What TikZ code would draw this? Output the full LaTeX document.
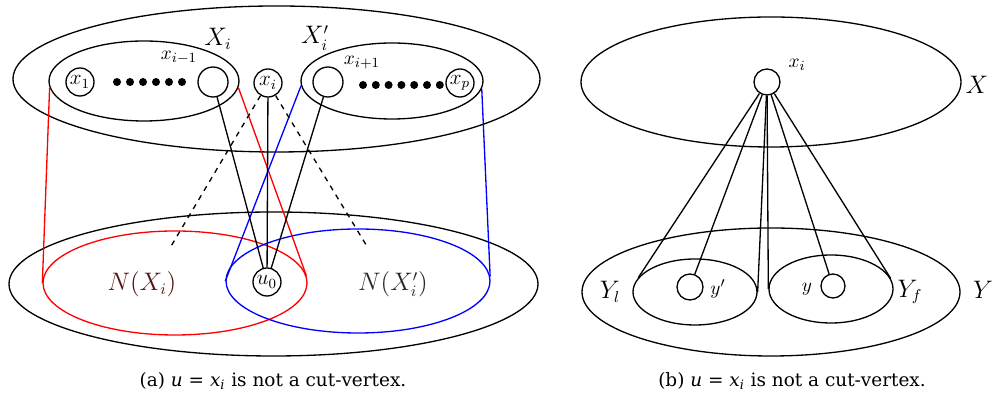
\documentclass[tikz,border=0pt]{standalone}
\usepackage{fontspec}
\newfontfamily\capfont{DejaVu Serif}
\usepackage{tikz}
\usetikzlibrary{positioning,shapes.geometric,calc}
\definecolor{NRed}{RGB}{85,20,20}
\definecolor{NGray}{RGB}{40,40,40}

\begin{document}
\begin{tikzpicture}[
      line width=0.75pt,
      set/.style={draw, ellipse, inner sep=0pt},
      vert/.style={draw, circle, inner sep=0pt, font=\fontsize{12}{14}\selectfont},
      dotv/.style={fill, circle, inner sep=0pt, minimum size=0.16cm},
      lbl/.style={font=\fontsize{13.5}{16}\selectfont},
      sub/.style={font=\fontsize{11}{13}\selectfont},
      captext/.style={font=\capfont\fontsize{10.5}{12}\selectfont}
    ]
    \useasboundingbox (0,0) rectangle (19.88,7.86);

    % (a) upper part
    \node[set, minimum width=10.54cm, minimum height=2.92cm] (Xall) at (5.53,6.28) {};
    \node[set, minimum width=3.80cm, minimum height=1.60cm] (Xi) at (2.88,6.24) {};
    \node[set, minimum width=3.64cm, minimum height=1.52cm] (Xip) at (7.84,6.24) {};
    \node[lbl] (XiL) at (4.36,7.08) {$X_i$};
    \node[lbl] (XipL) at (6.30,7.10) {$X_i'$};

    \node[vert, minimum size=0.56cm] (x1) at (1.60,6.22) {$x_1$};
    \foreach \k in {0,...,5}
      \node[dotv] (dl\k) at (2.34+0.26*\k,6.22) {};
    \node[vert, minimum size=0.60cm] (xim1) at (4.26,6.22) {};
    \node[sub] (xim1L) at (3.58,6.70) {$x_{i-1}$};
    \node[vert, minimum size=0.56cm] (xi) at (5.36,6.20) {$x_i$};
    \node[vert, minimum size=0.60cm] (xip1) at (6.56,6.22) {};
    \node[sub] (xip1L) at (7.24,6.60) {$x_{i+1}$};
    \foreach \k in {0,...,6}
      \node[dotv] (dr\k) at (7.26+0.256*\k,6.16) {};
    \node[vert, minimum size=0.56cm] (xp) at (9.20,6.20) {$x_p$};

    % (a) lower part
    \node[set, minimum width=10.58cm, minimum height=2.88cm] (Yall) at (5.47,2.18) {};
    \node[set, draw=red, minimum width=5.28cm, minimum height=2.08cm] (NXi) at (3.50,2.20) {};
    \node[set, draw=blue, minimum width=5.28cm, minimum height=2.08cm] (NXip) at (7.16,2.24) {};
    \node[lbl, text=NRed] (NXiL) at (2.84,2.18) {$N(X_i)$};
    \node[lbl, text=NGray] (NXipL) at (7.86,2.18) {$N(X_i')$};
    \node[vert, minimum size=0.56cm] (u0) at (5.34,2.22) {$u_0$};
    \coordinate (dashL) at (3.40,2.90);
    \coordinate (dashR) at (7.36,2.90);

    \draw[red] (Xi.184) -- (NXi.west);
    \draw[red] (Xi.356) -- (NXi.3);
    \draw[blue] (Xip.183) -- (NXip.west);
    \draw[blue] (Xip.355) -- (NXip.2);
    \draw[dashed] (xi) -- (dashL);
    \draw[dashed] (xi) -- (dashR);
    \draw (xim1) -- (u0);
    \draw (xi) -- (u0);
    \draw (xip1) -- (u0);

    \node[captext] (capA) at (5.46,0.24) {(a) \textit{u} = \textit{x}\textsubscript{\textit{i}} is not a cut-vertex.};

    % (b)
    \node[set, minimum width=7.60cm, minimum height=2.60cm] (X) at (15.42,6.22) {};
    \node[lbl] (XL) at (19.54,6.16) {$X$};
    \node[vert, minimum size=0.52cm] (xb) at (15.34,6.22) {};
    \node[sub] (xbL) at (15.94,6.56) {$x_i$};

    \node[set, minimum width=7.56cm, minimum height=2.56cm] (Y) at (15.42,2.02) {};
    \node[set, minimum width=2.48cm, minimum height=1.32cm] (Yl) at (13.90,2.02) {};
    \node[set, minimum width=2.48cm, minimum height=1.36cm] (Yf) at (16.62,2.08) {};
    \node[lbl] (YL) at (19.66,2.06) {$Y$};
    \node[lbl] (YlL) at (12.20,2.02) {$Y_l$};
    \node[lbl] (YfL) at (18.20,2.02) {$Y_f$};
    \node[vert, minimum size=0.52cm] (yp) at (13.80,2.12) {};
    \node[sub] (ypL) at (14.36,2.08) {$y'$};
    \node[vert, minimum size=0.48cm] (yv) at (16.66,2.14) {};
    \node[sub] (yvL) at (16.14,2.08) {$y$};

    \draw (xb) -- (Yl.166);
    \draw (xb) -- (yp);
    \draw (xb) -- (Yl.east);
    \draw (xb) -- (Yf.west);
    \draw (xb) -- (yv);
    \draw (xb) -- (Yf.10);

    \node[captext] (capB) at (15.84,0.24) {(b) \textit{u} = \textit{x}\textsubscript{\textit{i}} is not a cut-vertex.};
  \end{tikzpicture}
\end{document}
